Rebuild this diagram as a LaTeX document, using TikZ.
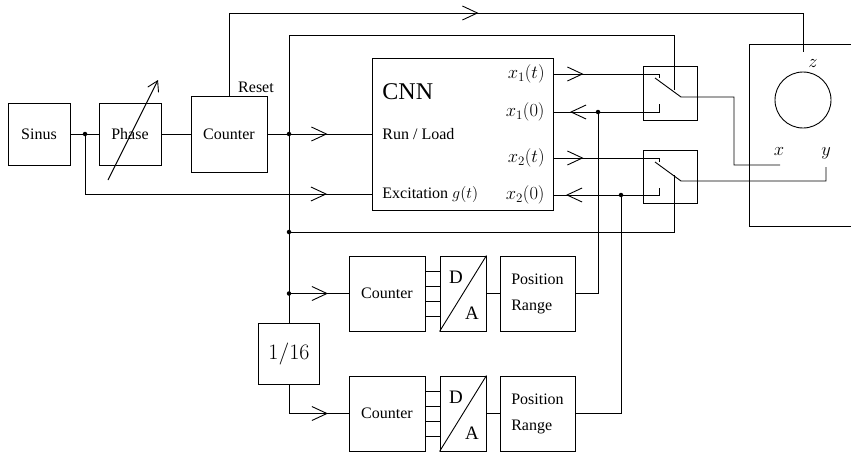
\documentclass[tikz,border=0pt]{standalone}
\usepackage{fix-cm}
\usepackage[no-math]{fontspec}
\setmainfont{Liberation Serif}
\usetikzlibrary{arrows.meta,decorations.markings}
\begin{document}
\begin{tikzpicture}[x=1pt,y=-1pt,line width=0.9pt,
  box/.style={draw,rectangle,inner sep=0pt,font=\fontsize{16}{18}\selectfont},
  dot/.style={circle,fill,inner sep=0pt,minimum size=4.5pt},
  chev/.style={postaction={decorate,decoration={markings,mark=at position #1 with {\arrow{Straight Barb[length=15pt,width=14pt]}}}}},
  lbl/.style={inner sep=0pt,font=\fontsize{16}{18}\selectfont},
  mlbl/.style={inner sep=0pt,font=\fontsize{18.5}{20}\selectfont},
  dalbl/.style={inner sep=0pt,font=\fontsize{19}{20}\selectfont}]
\useasboundingbox (0,0) rectangle (851,452);

% upper row
\node[box,minimum width=62pt,minimum height=62pt] (sinus) at (39,134) {Sinus};
\node[box,minimum width=62pt,minimum height=62pt] (phase) at (130,134) {Phase};
\node[box,minimum width=76pt,minimum height=76pt] (cnt) at (229,134) {Counter};
\node[lbl,anchor=south] (reset) at (256,93) {Reset};
\node[box,minimum width=181pt,minimum height=152pt] (cnn) at (462.5,134) {};
\node[inner sep=0pt,anchor=west,font=\fontsize{24}{26}\selectfont] (cnnt) at (382,92) {CNN};
\node[lbl,anchor=west] (runl) at (382,134) {Run / Load};
\node[lbl,anchor=west] (exl) at (382,194) {Excitation $g(t)$};
\node[mlbl,anchor=east] (x1t) at (545,74) {$x_1(t)$};
\node[mlbl,anchor=east] (x10) at (545,112) {$x_1(0)$};
\node[mlbl,anchor=east] (x2t) at (545,158) {$x_2(t)$};
\node[mlbl,anchor=east] (x20) at (545,195) {$x_2(0)$};

% switches
\node[box,minimum width=54pt,minimum height=54pt] (sw1) at (670,93) {};
\node[box,minimum width=54pt,minimum height=53pt] (sw2) at (670,176.5) {};

% display
\draw (851,44) -- (749,44) -- (749,226) -- (851,226);
\node[draw,circle,minimum size=56pt,inner sep=0pt] (crt) at (803,100) {};
\node[mlbl] (zl) at (813,64) {$z$};
\node[mlbl] (xl) at (779,152) {$x$};
\node[mlbl] (yl) at (826,153) {$y$};
\coordinate (zin) at (803,52);
\coordinate (xin) at (780,165);
\coordinate (yin) at (826,167);

% lower rows
\node[box,minimum width=61pt,minimum height=61pt,font=\fontsize{22}{24}\selectfont] (div) at (289,353.5) {$1/16$};
\node[box,minimum width=76pt,minimum height=75pt] (ca) at (387,293.5) {Counter};
\node[box,minimum width=46pt,minimum height=75pt] (da) at (463,293.5) {};
\node[box,minimum width=75pt,minimum height=75pt,align=left,font=\fontsize{16}{26}\selectfont] (pa) at (537.5,293.5) {Position\\Range};
\node[box,minimum width=76pt,minimum height=75pt] (cb) at (387,413.5) {Counter};
\node[box,minimum width=46pt,minimum height=75pt] (db) at (463,413.5) {};
\node[box,minimum width=75pt,minimum height=75pt,align=left,font=\fontsize{16}{26}\selectfont] (pb) at (537.5,413.5) {Position\\Range};
\draw (da.south west) -- (da.north east);
\draw (db.south west) -- (db.north east);
\node[dalbl] (dA) at (456,277) {D};
\node[dalbl] (aA) at (472,313) {A};
\node[dalbl] (dB) at (456,397) {D};
\node[dalbl] (aB) at (472,433) {A};

% coordinates / junctions
\coordinate (j1) at (85,134);
\coordinate (j2) at (289,134);
\coordinate (j3) at (289,232);
\coordinate (j4) at (289,293.5);
\coordinate (j5) at (598,112);
\coordinate (j6) at (621,195);
\coordinate (c1) at (674,90);
\coordinate (c2) at (674,175);

% connectors upper
\draw (sinus) -- (phase);
\draw (phase) -- (cnt);
\draw[-{Straight Barb[length=10pt,width=12pt]}] (108,180) -- (158,80);
\draw[chev=60pt] (cnt.east) -- (cnn.west |- cnt.east);
\draw[chev=302pt] (j1) -- (j1 |- exl) -- (cnn.west |- exl);
\draw[chev=332pt] (cnt.north) -- (229,13) -- (803,13) -- (zin);

% bus
\draw (c1) -- (674,35) -- (289,35) -- (div.north);
\draw (j3) -- (674,232) -- (c2);
\draw[chev=39pt] (j4) -- (ca.west);
\draw[chev=68pt] (div.south) -- (div.south |- cb.west) -- (cb.west);

% counter -> DA buses
\foreach \dy in {-22.5,-7.5,7.5,22.5}{
  \draw ([yshift=\dy pt]ca.east) -- ([yshift=\dy pt]da.west);
  \draw ([yshift=\dy pt]cb.east) -- ([yshift=\dy pt]db.west);
}
\draw (da) -- (pa);
\draw (db) -- (pb);
\draw (pa.east) -- (j5 |- pa.east) -- (j5);
\draw (pb.east) -- (j6 |- pb.east) -- (j6);

% CNN outputs and switch contacts
\draw[chev=30pt] (cnn.east |- x1t) -- (659,74) -- (659,78);
\draw (655,78) -- (681,97) -- (734,97) -- (734,165) -- (xin);
\draw[chev=97pt] (659,104) -- (659,112) -- (cnn.east |- x10);
\draw[chev=30pt] (cnn.east |- x2t) -- (659,158) -- (659,162);
\draw (655,162) -- (681,181) -- (826,181) -- (yin);
\draw[chev=100pt] (659,188) -- (659,195) -- (cnn.east |- x20);

% dots
\foreach \p in {j1,j2,j3,j4,j5,j6} \node[dot] at (\p) {};
\end{tikzpicture}
\end{document}
